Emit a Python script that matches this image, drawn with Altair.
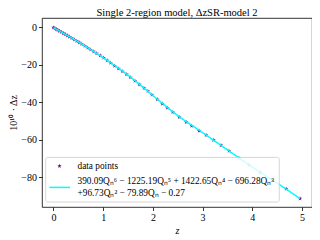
import altair as alt
import pandas as pd

# ---- data ----
z_points = [0.00, 0.03, 0.06, 0.09, 0.12, 0.16, 0.20, 0.24, 0.28, 0.32, 0.37, 0.42,
            0.47, 0.52, 0.57, 0.63, 0.69, 0.75, 0.81, 0.87, 0.94, 1.01, 1.08, 1.15,
            1.23, 1.31, 1.39, 1.47, 1.55, 1.64, 1.73, 1.82, 1.90, 1.98, 2.09, 2.19,
            2.29, 2.40, 2.53, 2.67, 2.78, 2.93, 3.07, 3.22, 3.37, 3.53, 3.73, 3.93,
            4.16, 4.68, 4.96]
dz_points = [-0.27, -0.73, -1.19, -1.65, -2.11, -2.72, -3.33, -3.94, -4.55, -5.17, -5.93, -6.70,
             -7.46, -8.26, -9.08, -10.07, -11.06, -12.05, -13.04, -14.03, -15.18, -16.38, -17.72, -19.05,
             -20.58, -22.10, -23.63, -25.16, -26.79, -28.67, -30.55, -32.42, -34.09, -36.0, -38.5, -40.8,
             -43.0, -45.3, -47.9, -50.5, -52.5, -55.2, -57.5, -60.1, -62.9, -65.9, -69.6, -73.3,
             -77.3, -86.0, -91.2]

fit_z = [0.0, 0.5, 1.0, 1.5, 2.0, 2.5, 3.0, 3.5, 4.0, 4.5, 4.96]
fit_dz = [-0.3, -7.9, -16.3, -25.6, -36.4, -47.1, -56.1, -65.3, -74.5, -83.0, -91.2]

x_ticks = [0, 1, 2, 3, 4, 5]
y_ticks = [0, -20, -40, -60, -80]

legend_labels = ["data points",
                 "390.09Qₙ⁶ − 1225.19Qₙ⁵ + 1422.65Qₙ⁴ − 696.28Qₙ³",
                 "+96.73Qₙ² − 79.89Qₙ − 0.27"]

title_text = "Single 2-region model, ΔzSR-model 2"
x_title = "z"
y_title = "10¹⁰ · Δz"

# ---- styling ----
FONT = "Liberation Serif"
PURPLE = "#800080"
CYAN = "#00FFFF"
STAR = ("M0,-1L0.2245,-0.309L0.951,-0.309L0.363,0.118L0.588,0.809L0,0.382"
        "L-0.588,0.809L-0.363,0.118L-0.951,-0.309L-0.2245,-0.309Z")

W, H = 270, 189
xscale = alt.Scale(domain=[-0.23, 5.2], nice=False, zero=False)
yscale = alt.Scale(domain=[-95.7, 4.8], nice=False, zero=False)

df_pts = pd.DataFrame({"z": z_points, "dz": dz_points})
df_fit = pd.DataFrame({"z": fit_z, "dz": fit_dz})

x_enc = alt.X("z:Q", scale=xscale,
              axis=alt.Axis(values=x_ticks, format="d", title=x_title,
                            titleFontStyle="italic", titlePadding=3))
y_enc = alt.Y("dz:Q", scale=yscale,
              axis=alt.Axis(values=y_ticks, format="d", title=y_title,
                            titlePadding=2))

pts = alt.Chart(df_pts).mark_point(
    shape=STAR, filled=True, size=22, color=PURPLE, opacity=1, strokeWidth=0
).encode(x=x_enc, y=y_enc)

line = alt.Chart(df_fit).mark_line(
    color=CYAN, strokeWidth=1.5, interpolate="monotone"
).encode(x="z:Q", y="dz:Q")

one = pd.DataFrame({"a": [0]})
leg_box = alt.Chart(one).mark_rect(
    fill="white", fillOpacity=0.8, stroke="#cccccc", strokeWidth=0.8, cornerRadius=2
).encode(x=alt.value(3.7), x2=alt.value(237.3), y=alt.value(139.4), y2=alt.value(184))

leg_pt = alt.Chart(one).mark_point(
    shape=STAR, filled=True, size=22, color=PURPLE, opacity=1, strokeWidth=0
).encode(x=alt.value(17.5), y=alt.value(148))

leg_line = alt.Chart(one).mark_rule(color=CYAN, strokeWidth=1.5).encode(
    x=alt.value(7.3), x2=alt.value(28), y=alt.value(169.4))

df_leg = pd.DataFrame({"label": legend_labels, "ly": [148, 163, 174.5]})
leg_text = alt.Chart(df_leg).mark_text(
    align="left", baseline="middle", font=FONT, fontSize=9.3, color="black"
).encode(x=alt.value(35.5), y=alt.Y("ly:Q", scale=None), text="label:N")

chart = alt.layer(pts, line, leg_box, leg_pt, leg_line, leg_text).properties(
    width=W, height=H,
    title=alt.TitleParams(title_text, font=FONT, fontSize=10.5, fontWeight="normal",
                          color="black", offset=0),
    autosize=alt.AutoSizeParams(type="none"),
    padding={"left": 34, "top": 10, "right": 0, "bottom": 32},
).configure_axis(
    grid=False, domain=False, ticks=True, tickSize=3.5, tickColor="black",
    tickWidth=0.8, labelFont=FONT, labelFontSize=10, labelColor="black",
    titleFont=FONT, titleFontSize=10, titleFontWeight="normal", titleColor="black",
    labelPadding=2
).configure_view(stroke="black", strokeWidth=0.8)

chart.save("out.html", embed_options={"renderer": "svg", "actions": False})
